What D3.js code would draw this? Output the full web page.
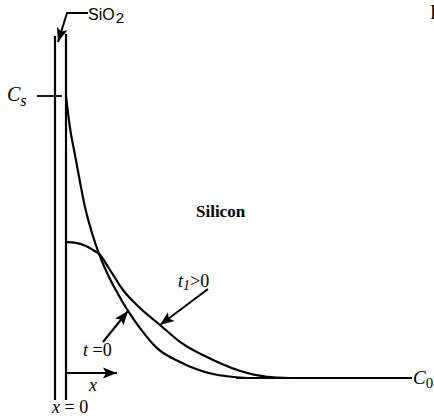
<!DOCTYPE html>
<html>
<head>
<meta charset="utf-8">
<script src="https://cdn.jsdelivr.net/npm/d3@7"></script>
<style>
  html, body { margin: 0; padding: 0; background: #fff; }
  svg { display: block; }
</style>
</head>
<body>
<div id="chart"></div>
<script>
// Dopant profiles in silicon: depth (arbitrary units) vs normalised concentration
// (0 = background C0, 1 = surface concentration Cs).
const profileT0Depth = [0, 0.04, 0.09, 0.14, 0.19, 0.26, 0.33, 0.42, 0.52, 0.62, 0.74, 0.91, 1.14, 1.47, 1.81];
const profileT0Conc  = [1.0, 0.887, 0.791, 0.695, 0.606, 0.514, 0.440, 0.365, 0.298, 0.238, 0.177, 0.106, 0.057, 0.014, 0];

const profileT1Depth = [0, 0.10, 0.20, 0.27, 0.33, 0.44, 0.57, 0.74, 0.94, 1.14, 1.47, 1.81, 2.01, 2.24];
const profileT1Conc  = [0.482, 0.479, 0.468, 0.454, 0.440, 0.383, 0.312, 0.248, 0.188, 0.128, 0.064, 0.018, 0.004, 0];

const backgroundDepth = [1.7, 3.46];
const backgroundConc = [0, 0];

const oxideThickness = 0.11;

const SERIF = "'Liberation Serif', 'Times New Roman', 'DejaVu Serif', serif";
const SANS = "'Liberation Sans', Arial, 'DejaVu Sans', sans-serif";

const width = 434, height = 418;
const x = d3.scaleLinear().domain([0, 3.46]).range([66, 412]);
const y = d3.scaleLinear().domain([0, 1]).range([378, 96]);

const svg = d3.select("#chart").append("svg")
  .attr("width", width).attr("height", height);

const defs = svg.append("defs");
defs.append("marker")
  .attr("id", "head")
  .attr("markerUnits", "userSpaceOnUse")
  .attr("viewBox", "0 -6 14 12")
  .attr("refX", 14).attr("refY", 0)
  .attr("markerWidth", 14).attr("markerHeight", 12)
  .attr("orient", "auto")
  .append("path").attr("d", "M0,-5.5L14,0L0,5.5L3,0Z").attr("fill", "#000");

const ink = "#000";
const toPts = (ds, cs) => ds.map((d, i) => [d, cs[i]]);
const line = d3.line().x(d => x(d[0])).y(d => y(d[1])).curve(d3.curveMonotoneX);

// oxide layer walls
svg.append("line")
  .attr("x1", x(-oxideThickness)).attr("x2", x(-oxideThickness))
  .attr("y1", 36).attr("y2", 400)
  .attr("stroke", ink).attr("stroke-width", 2.2);
svg.append("line")
  .attr("x1", x(0)).attr("x2", x(0))
  .attr("y1", 34).attr("y2", 400)
  .attr("stroke", ink).attr("stroke-width", 2.2);

// surface concentration tick
svg.append("line")
  .attr("x1", x(-0.29)).attr("x2", x(-0.04))
  .attr("y1", y(1)).attr("y2", y(1))
  .attr("stroke", ink).attr("stroke-width", 1.8);

// profiles
svg.append("path").datum(toPts(profileT0Depth, profileT0Conc))
  .attr("d", line).attr("fill", "none").attr("stroke", ink).attr("stroke-width", 2.2);
svg.append("path").datum(toPts(profileT1Depth, profileT1Conc))
  .attr("d", line).attr("fill", "none").attr("stroke", ink).attr("stroke-width", 2.2);
svg.append("path").datum(toPts(backgroundDepth, backgroundConc))
  .attr("d", d3.line().x(d => x(d[0])).y(d => y(d[1])))
  .attr("fill", "none").attr("stroke", ink).attr("stroke-width", 2.2);

// depth arrow
svg.append("line")
  .attr("x1", x(0)).attr("x2", x(0.51))
  .attr("y1", 373).attr("y2", 373)
  .attr("stroke", ink).attr("stroke-width", 2)
  .attr("marker-end", "url(#head)");

// SiO2 pointer
svg.append("path")
  .attr("d", "M88,13 L67,13 L58,42")
  .attr("fill", "none").attr("stroke", ink).attr("stroke-width", 2)
  .attr("marker-end", "url(#head)");

// t = 0 pointer
svg.append("line")
  .attr("x1", 103).attr("y1", 342).attr("x2", 128).attr("y2", 311)
  .attr("stroke", ink).attr("stroke-width", 2)
  .attr("marker-end", "url(#head)");

// t1 > 0 pointer
svg.append("line")
  .attr("x1", 208).attr("y1", 289).attr("x2", 160).attr("y2", 325)
  .attr("stroke", ink).attr("stroke-width", 2)
  .attr("marker-end", "url(#head)");

// labels
const sio2 = svg.append("text").attr("font-family", SANS)
  .attr("x", 88).attr("y", 20).attr("font-size", 16);
sio2.append("tspan").text("SiO");
sio2.append("tspan").attr("dy", 3).attr("dx", 1).attr("font-size", 15).text("2");

const cs = svg.append("text").attr("font-family", SERIF)
  .attr("x", 7).attr("y", 101).attr("font-size", 20).attr("font-style", "italic");
cs.append("tspan").text("C");
cs.append("tspan").attr("dy", 5).attr("font-size", 16).text("s");

svg.append("text").attr("font-family", SERIF)
  .attr("x", 196).attr("y", 217).attr("font-size", 17).attr("font-weight", "bold")
  .text("Silicon");

const t1 = svg.append("text").attr("font-family", SERIF)
  .attr("x", 178).attr("y", 287).attr("font-size", 18);
t1.append("tspan").attr("font-style", "italic").text("t");
t1.append("tspan").attr("font-style", "italic").attr("dy", 3).attr("font-size", 14).text("1");
t1.append("tspan").attr("dy", -3).text(">0");

const t0 = svg.append("text").attr("font-family", SERIF)
  .attr("x", 83).attr("y", 356).attr("font-size", 18);
t0.append("tspan").attr("font-style", "italic").text("t");
t0.append("tspan").text(" =0");

svg.append("text").attr("font-family", SERIF)
  .attr("x", 89).attr("y", 391).attr("font-size", 18).attr("font-style", "italic")
  .text("x");

const x0 = svg.append("text").attr("font-family", SERIF)
  .attr("x", 52).attr("y", 413).attr("font-size", 18);
x0.append("tspan").attr("font-style", "italic").text("x");
x0.append("tspan").text(" = 0");

const c0 = svg.append("text").attr("font-family", SERIF)
  .attr("x", 413).attr("y", 384).attr("font-size", 19).attr("font-style", "italic");
c0.append("tspan").text("C");
c0.append("tspan").attr("dy", 4).attr("font-size", 15).attr("font-style", "normal").text("0");

svg.append("text").attr("font-family", SERIF)
  .attr("x", 430).attr("y", 19).attr("font-size", 20)
  .text("F");
</script>
</body>
</html>
